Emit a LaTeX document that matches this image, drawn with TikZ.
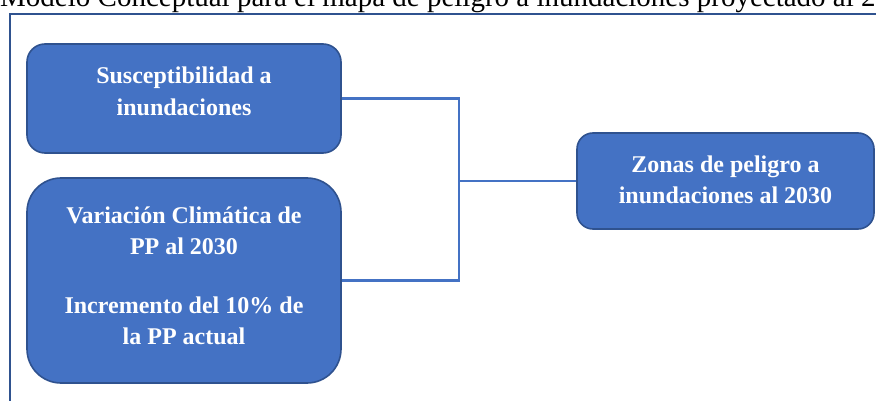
\documentclass[tikz,border=0pt]{standalone}
\usepackage{fontspec}
\setmainfont{Liberation Serif}
\usepackage{tikz}
\usetikzlibrary{positioning}

\definecolor{boxblue}{HTML}{4472C4}
\definecolor{boxedge}{HTML}{2F528F}

\begin{document}
\begin{tikzpicture}[
    x=1pt, y=-1pt,                                   % pixel-like units, y going down
    box/.style={rectangle, draw=boxedge, line width=1.6pt, fill=boxblue,
                text=white, align=flush center, inner sep=0pt, text width=290pt,
                font=\fontsize{24}{32}\selectfont\bfseries},  % Style for the blue boxes
    conn/.style={draw=boxblue, line width=2.2pt},    % Style for the connector lines
    frame/.style={draw=boxedge, line width=2.4pt}    % Style for the figure frame
    ]

    \useasboundingbox (0,0) rectangle (876,401);
    \clip (0,0) rectangle (876,401);

    % Caption, cut at the top edge
    \node[anchor=base west, inner sep=0pt, font=\fontsize{29}{35}\selectfont] (title) at (0,7)
        {Modelo Conceptual para el mapa de peligro a inundaciones proyectado al 2030};

    % Frame round the figure
    \draw[frame] (9.7,410) -- (9.7,14.3) -- (890,14.3);

    % Input boxes on the left
    \node[box, minimum width=314pt, minimum height=109pt, rounded corners=18pt,
          text height=17pt, text depth=46pt] (sus) at (184,98.5)
        {Susceptibilidad a\\inundaciones};
    \node[box, minimum width=314pt, minimum height=205pt, rounded corners=34pt,
          text height=17pt, text depth=132pt] (var) at (184,280.5)
        {Variación Climática de\\PP al 2030\\[26pt]Incremento del 10\% de\\la PP actual};

    % Result box on the right
    \node[box, minimum width=297pt, minimum height=96pt, rounded corners=16pt,
          text height=17pt, text depth=35pt] (zon) at (725.5,181)
        {Zonas de peligro a\\inundaciones al 2030};

    % Joint of the two inputs
    \coordinate (jn) at (459,181);

    % Connectors
    \draw[conn] (sus.east) -| (jn) |- (var.east);
    \draw[conn] (jn) -- (zon.west);

\end{tikzpicture}
\end{document}
